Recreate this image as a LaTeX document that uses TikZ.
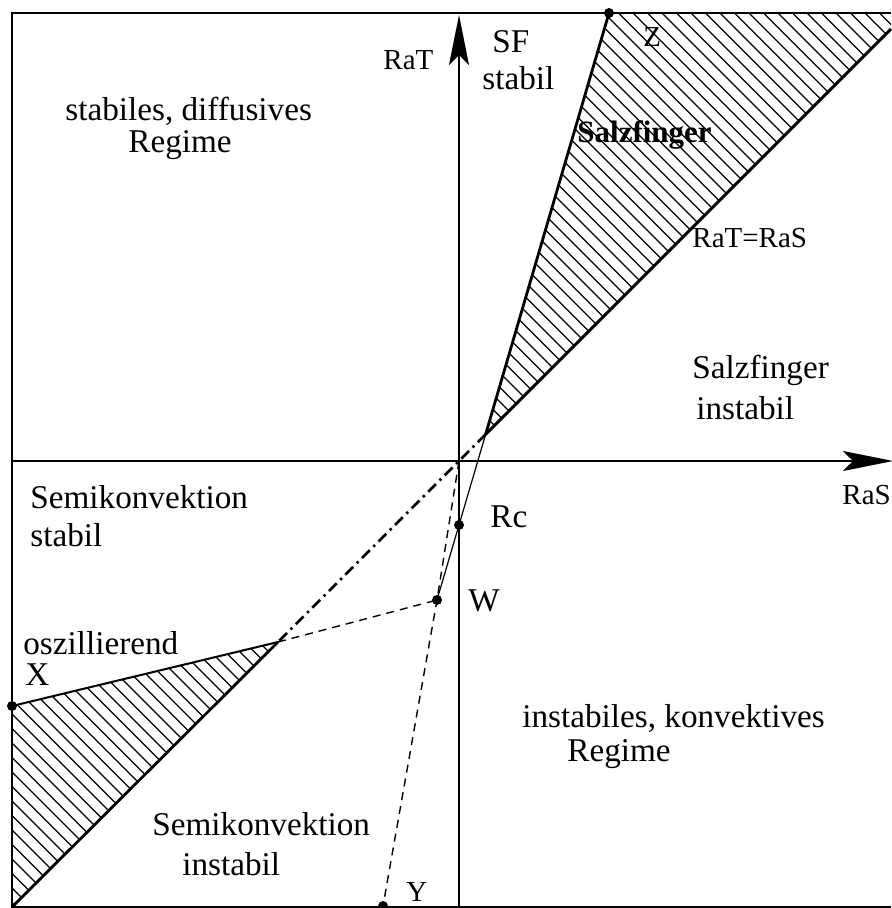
\documentclass[tikz,border=0pt]{standalone}
\usepackage{fontspec}
\setmainfont{Liberation Serif}
\usetikzlibrary{arrows.meta}
\begin{document}
\begin{tikzpicture}[x=0.5pt,y=-0.5pt,
  lbl/.style={inner sep=0pt,anchor=base west,font=\fontsize{16.6}{18}\selectfont},
  slbl/.style={inner sep=0pt,anchor=base west,font=\fontsize{14.5}{16}\selectfont},
  blbl/.style={inner sep=0pt,anchor=base west,font=\fontsize{15.5}{16}\selectfont\bfseries},
  hatchline/.style={line width=0.55pt},
  dot/.style={circle,fill=black,inner sep=0pt,minimum size=5pt},
  axis/.style={line width=0.8pt,-{Stealth[length=25pt,width=10pt,inset=5pt]}},
  thickline/.style={line width=1.4pt},
  dashdot/.style={line width=1.4pt,dash pattern=on 5.5pt off 2.5pt on 1.2pt off 2.5pt},
  thindash/.style={line width=0.7pt,dash pattern=on 4pt off 3pt}
]
\useasboundingbox (0,0) rectangle (891,908);
\fill[white] (0,0) rectangle (891,908);

% key points
\coordinate (O) at (459,461);
\coordinate (P) at (485.6,434.4);
\coordinate (A) at (278,642);
\coordinate (TR) at (891,29);
\coordinate (BL) at (12,907);

% hatching, upper region
\begin{scope}
  \clip (609,13) -- (891,13) -- (TR) -- (P) -- cycle;
  \foreach \k in {40,54.5,...,900} \draw[hatchline] (\k,0) -- ++(1000,1000);
\end{scope}
% hatching, lower region
\begin{scope}
  \clip (12,706) -- (A) -- (BL) -- cycle;
  \foreach \k in {-905,-890.5,...,-350} \draw[hatchline] (\k,0) -- ++(1000,1000);
\end{scope}

% frame
\draw[line width=0.9pt] (891,13) -- (12,13) -- (12,907) -- (891,907);

% axes
\draw[axis] (459,907) -- (459,15);
\draw[axis] (12,461) -- (893,461);

% dots
\node[dot] (Z) at (609,13) {};
\node[dot] (Rc) at (459,525) {};
\node[dot] (W) at (437,600) {};
\node[dot] (X) at (12,706) {};
\node[dot] (Y) at (383,906) {};

% boundaries
\draw[thickline] (Z.center) -- (P);
\draw[line width=0.6pt] (P) -- (Rc.center) -- (W.center);
\draw[line width=1.5pt] (P) -- (TR);
\draw[dashdot] (P) -- (O) -- (A);
\draw[thickline] (A) -- (BL);
\draw[line width=1pt] (X.center) -- (A);
\draw[thindash] (A) -- (W.center);
\draw[thindash] (O) -- (W.center) -- (Y.center);

% labels
\node[slbl] (lRaT) at (383,70) {RaT};
\node[lbl] (lSF) at (492,53) {SF};
\node[lbl] (lSFs) at (482,90) {stabil};
\node[slbl] (lZ) at (643,47) {Z};
\node[blbl] (lSalz) at (577,143) {Salzfinger};
\node[slbl] (lRR) at (692,248) {RaT=RaS};
\node[lbl] (ld1) at (65,121) {stabiles, diffusives};
\node[lbl] (ld2) at (128,153) {Regime};
\node[lbl] (lsi1) at (692,379) {Salzfinger};
\node[lbl] (lsi2) at (696,419) {instabil};
\node[lbl] (lss1) at (30,508) {Semikonvektion};
\node[lbl] (lss2) at (30,546) {stabil};
\node[lbl] (lRc) at (490,527) {Rc};
\node[lbl] (lW) at (468,611) {W};
\node[slbl] (lRaS) at (842,504) {RaS};
\node[lbl] (losz) at (23,654) {oszillierend};
\node[lbl] (lX) at (25,685) {X};
\node[lbl] (lsu1) at (152,835) {Semikonvektion};
\node[lbl] (lsu2) at (182,875) {instabil};
\node[lbl] (lk1) at (522,727) {instabiles, konvektives};
\node[lbl] (lk2) at (567,761) {Regime};
\node[slbl] (lY) at (406,901) {Y};
\end{tikzpicture}
\end{document}
